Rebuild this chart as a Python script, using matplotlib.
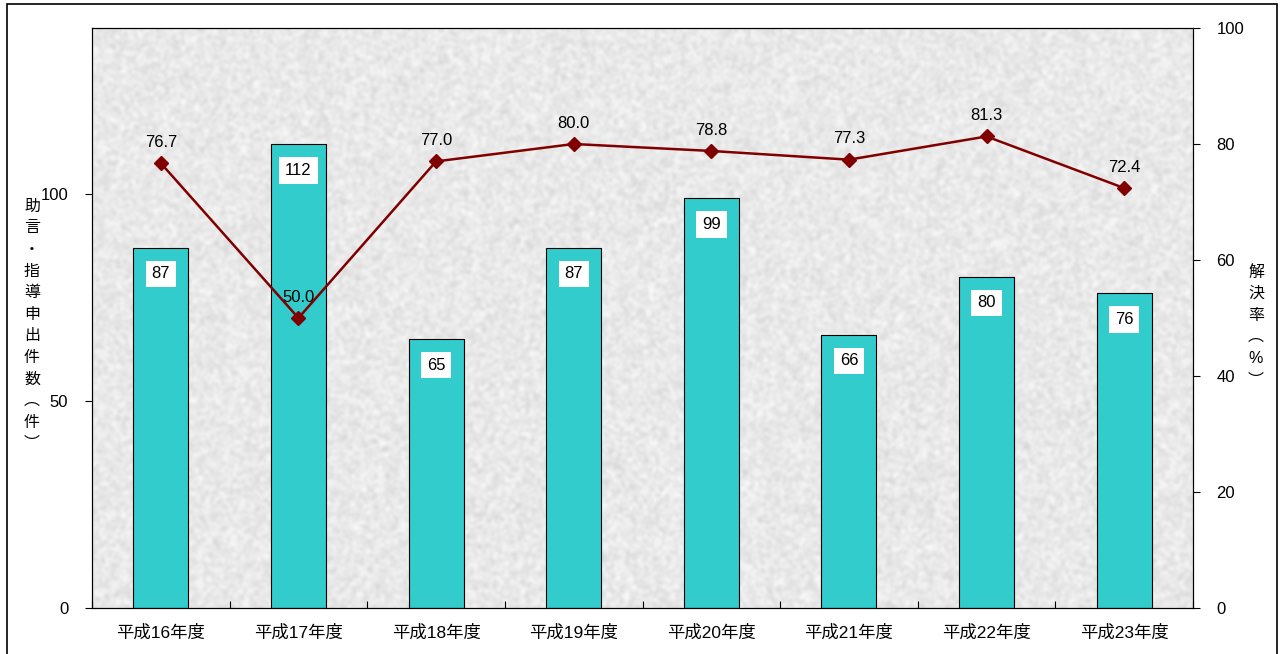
import numpy as np
import matplotlib
matplotlib.use('Agg')
import matplotlib.pyplot as plt
from matplotlib.patches import Rectangle

plt.rcParams['font.family'] = ['Liberation Sans', 'Noto Sans CJK JP']

years = ['平成16年度', '平成17年度', '平成18年度', '平成19年度',
         '平成20年度', '平成21年度', '平成22年度', '平成23年度']
requests = [87, 112, 65, 87, 99, 66, 80, 76]
solve_rate = [76.7, 50.0, 77.0, 80.0, 78.8, 77.3, 81.3, 72.4]

fig = plt.figure(figsize=(12.84, 6.54), dpi=100)
fig.patch.set_facecolor('white')

# outer frame
fig.patches.append(Rectangle((7 / 1284, -0.02), 1270 / 1284, 0.02 + 650 / 654,
                             transform=fig.transFigure, fill=False,
                             edgecolor='black', linewidth=1.2))

ax = fig.add_axes([92 / 1284, 46 / 654, 1101 / 1284, 580 / 654])

# light granite backdrop
rng = np.random.default_rng(7)
noise = rng.random((290, 550))
k = np.array([0.25, 0.5, 0.25])
noise = np.apply_along_axis(lambda r: np.convolve(r, k, mode='same'), 1, noise)
noise = np.apply_along_axis(lambda c: np.convolve(c, k, mode='same'), 0, noise)
noise = (noise - noise.min()) / (noise.max() - noise.min())
tex = 0.84 + 0.14 * noise
ax.imshow(tex, cmap='gray', vmin=0, vmax=1, extent=[0, 1, 0, 1],
          transform=ax.transAxes, aspect='auto', zorder=0, interpolation='bilinear')

x = np.arange(len(years))
ax.bar(x, requests, width=0.4, color='#33CCCC', edgecolor='black',
       linewidth=0.8, zorder=2)
for xi, v in zip(x, requests):
    ax.annotate(str(v), (xi, v), xytext=(0, -19), textcoords='offset points',
                ha='center', va='center', fontsize=12, zorder=5,
                bbox=dict(boxstyle='square,pad=0.35', facecolor='white', edgecolor='none'))

ax.set_xlim(-0.5, len(years) - 0.5)
ax.set_ylim(0, 140)
ax.set_yticks([0, 50, 100])
ax.set_xticks(x)
ax.set_xticklabels(years, fontsize=12.5)
ax.set_xticks(np.arange(-0.5, len(years), 1), minor=True)
ax.tick_params(axis='x', which='major', length=0, pad=12)
ax.tick_params(axis='x', which='minor', direction='in', length=5, width=0.8)
ax.tick_params(axis='y', direction='out', length=5, width=0.8, labelsize=12, pad=12)
for s in ax.spines.values():
    s.set_linewidth(0.8)

ax2 = ax.twinx()
ax2.plot(x, solve_rate, color='#800000', linewidth=1.8, marker='D',
         markersize=7, zorder=4)
for xi, v in zip(x, solve_rate):
    ax2.annotate(f'{v:.1f}', (xi, v), xytext=(0, 15), textcoords='offset points',
                 ha='center', va='center', fontsize=12)
ax2.set_ylim(0, 100)
ax2.set_yticks([0, 20, 40, 60, 80, 100])
ax2.tick_params(axis='y', direction='out', length=5, width=0.8, labelsize=12, pad=12)
for s in ax2.spines.values():
    s.set_linewidth(0.8)

left_label = '助言・指導申出件数︵件︶'
fig.text(32 / 1284, 1 - 325 / 654, '\n'.join(left_label), ha='center', va='center',
         fontsize=11.5, linespacing=1.55)
right_label = '解決率︵%︶'
fig.text(1256 / 1284, 1 - 326 / 654, '\n'.join(right_label), ha='center', va='center',
         fontsize=11.5, linespacing=1.55)

fig.savefig('out.png', dpi=100)
